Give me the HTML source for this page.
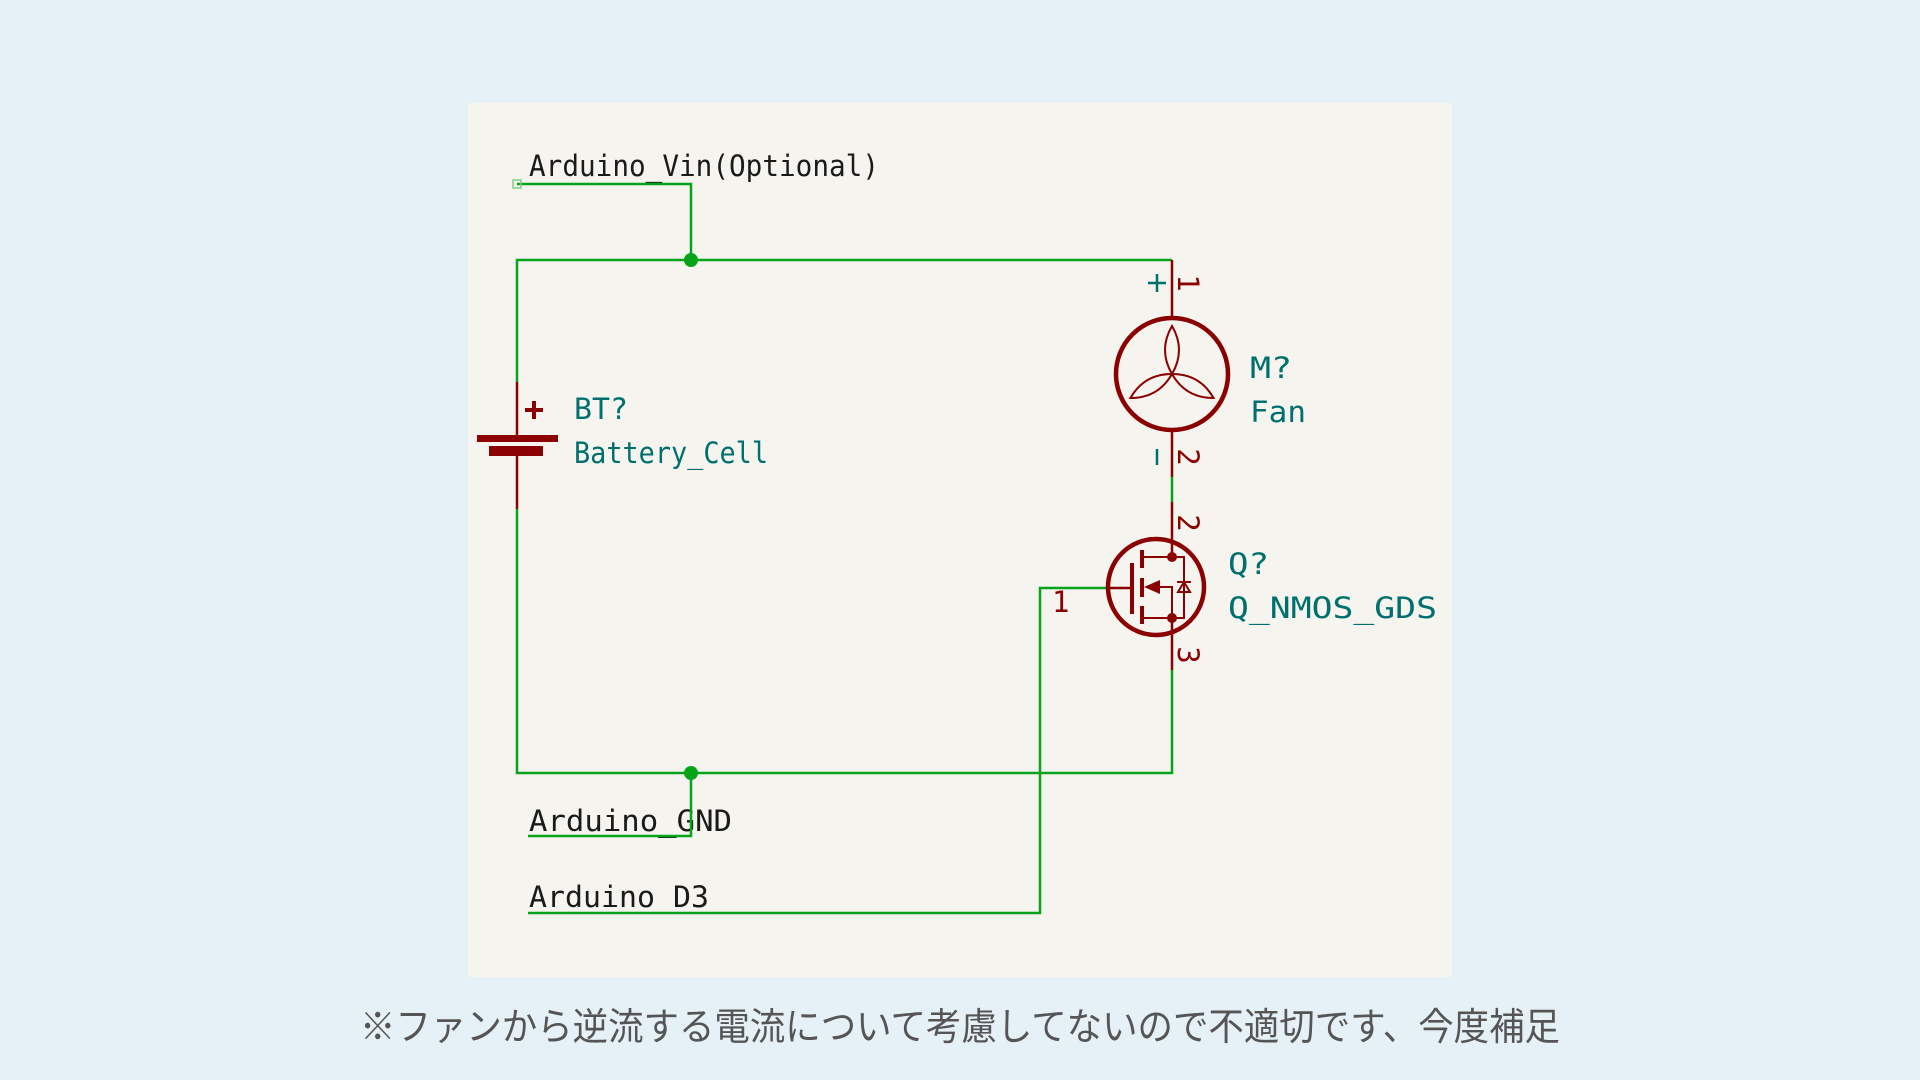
<!DOCTYPE html>
<html><head><meta charset="utf-8"><style>
html,body{margin:0;padding:0;background:#e6f1f7;width:1920px;height:1080px;overflow:hidden}
svg{display:block}
</style></head><body>
<svg width="1920" height="1080" viewBox="0 0 1920 1080" xmlns="http://www.w3.org/2000/svg">
<rect x="0" y="0" width="1920" height="1080" fill="#e6f1f7"/>
<rect x="468" y="103" width="984" height="874" fill="#f5f4ef"/>
<g font-family="'DejaVu Sans Mono','Liberation Mono',monospace" font-size="29" lengthAdjust="spacingAndGlyphs">
<text x="529" y="176" fill="#1a1a1a" textLength="350" lengthAdjust="spacingAndGlyphs">Arduino_Vin(Optional)</text>
<text x="529" y="831" fill="#1a1a1a" textLength="203" lengthAdjust="spacingAndGlyphs">Arduino_GND</text>
<text x="529" y="907" fill="#1a1a1a" textLength="180" lengthAdjust="spacingAndGlyphs">Arduino_D3</text>
<text x="574" y="419" fill="#00706e" textLength="54" lengthAdjust="spacingAndGlyphs">BT?</text>
<text x="574" y="463" fill="#00706e" textLength="194" lengthAdjust="spacingAndGlyphs">Battery_Cell</text>
<text x="1250" y="378" fill="#00706e" textLength="42" lengthAdjust="spacingAndGlyphs">M?</text>
<text x="1250" y="422" fill="#00706e" textLength="56" lengthAdjust="spacingAndGlyphs">Fan</text>
<text x="1228" y="574" fill="#00706e" textLength="41" lengthAdjust="spacingAndGlyphs">Q?</text>
<text x="1228" y="618" fill="#00706e" textLength="209" lengthAdjust="spacingAndGlyphs">Q_NMOS_GDS</text>
</g>
<g stroke="#07a31a" stroke-width="2.5" fill="none">
<polyline points="517,184 691,184 691,260"/>
<polyline points="517,382 517,260 1172,260"/>
<polyline points="517,509 517,773 1172,773 1172,670"/>
<polyline points="691,773 691,836 528,836"/>
<polyline points="528,913 1040,913 1040,588 1108,588"/>
<line x1="1172" y1="477" x2="1172" y2="502"/>
</g>
<rect x="513" y="180" width="8" height="8" fill="none" stroke="#7ccf84" stroke-width="1.5"/>
<circle cx="691" cy="260" r="7" fill="#07a31a"/>
<circle cx="691" cy="773" r="7" fill="#07a31a"/>
<g stroke="#8b0000" fill="#8b0000">
<line x1="517" y1="382" x2="517" y2="439" stroke-width="2.5"/>
<line x1="517" y1="451" x2="517" y2="509" stroke-width="2.5"/>
<rect x="477" y="435" width="81" height="7" stroke="none"/>
<rect x="489" y="446" width="54" height="10" stroke="none"/>
<line x1="525" y1="410" x2="543" y2="410" stroke-width="4"/>
<line x1="534" y1="401" x2="534" y2="419" stroke-width="4"/>
</g>
<g stroke="#8b0000" fill="none">
<line x1="1172" y1="260" x2="1172" y2="317" stroke-width="2.5"/>
<line x1="1172" y1="431" x2="1172" y2="477" stroke-width="2.5"/>
<line x1="1172" y1="502" x2="1172" y2="538" stroke-width="2.5"/>
<line x1="1172" y1="636" x2="1172" y2="670" stroke-width="2.5"/>
<circle cx="1172" cy="374" r="56" stroke-width="4.5"/>
<g stroke-width="2">
<path d="M1172,326 Q1158,350 1172,374 Q1186,350 1172,326 Z"/>
<path d="M1172,326 Q1158,350 1172,374 Q1186,350 1172,326 Z" transform="rotate(120 1172 374)"/>
<path d="M1172,326 Q1158,350 1172,374 Q1186,350 1172,326 Z" transform="rotate(240 1172 374)"/>
</g>
<circle cx="1156" cy="587" r="48" stroke-width="4.5"/>
<line x1="1108" y1="588" x2="1131" y2="588" stroke-width="2.5"/>
<line x1="1132" y1="563" x2="1132" y2="614" stroke-width="4"/>
<line x1="1142" y1="550" x2="1142" y2="568" stroke-width="4"/>
<line x1="1142" y1="578" x2="1142" y2="597" stroke-width="4"/>
<line x1="1142" y1="606" x2="1142" y2="624" stroke-width="4"/>
<polyline points="1142,557 1184,557 1184,618 1142,618" stroke-width="2"/>
<polyline points="1150,587 1172,587 1172,618" stroke-width="2"/>
<line x1="1172" y1="538" x2="1172" y2="557" stroke-width="2.5"/>
<line x1="1172" y1="618" x2="1172" y2="636" stroke-width="2.5"/>
<line x1="1177" y1="582" x2="1191" y2="582" stroke-width="2"/>
<polygon points="1184,582 1178,592 1190,592" stroke-width="2"/>
</g>
<polygon points="1144,587 1160,580 1160,594" fill="#8b0000"/>
<circle cx="1172" cy="557" r="5" fill="#8b0000"/>
<circle cx="1172" cy="618" r="5" fill="#8b0000"/>
<g font-family="'DejaVu Sans Mono','Liberation Mono',monospace" font-size="29" fill="#8b0000">
<text transform="translate(1176,283) rotate(90)" text-anchor="middle" dy="-2">1</text>
<text transform="translate(1176,457) rotate(90)" text-anchor="middle" dy="-2">2</text>
<text transform="translate(1176,523) rotate(90)" text-anchor="middle" dy="-2">2</text>
<text transform="translate(1176,655) rotate(90)" text-anchor="middle" dy="-2">3</text>
<text x="1052" y="612">1</text>
</g>
<g stroke="#00706e" stroke-width="2.5">
<line x1="1148" y1="283" x2="1166" y2="283"/>
<line x1="1157" y1="274" x2="1157" y2="292"/>
<line x1="1157" y1="449" x2="1157" y2="465"/>
</g>
<text x="360" y="1040" font-family="'Liberation Sans','Noto Sans CJK JP',sans-serif" font-size="38" fill="#555" textLength="1200" lengthAdjust="spacingAndGlyphs">※ファンから逆流する電流について考慮してないので不適切です、今度補足</text>
</svg>
</body></html>
